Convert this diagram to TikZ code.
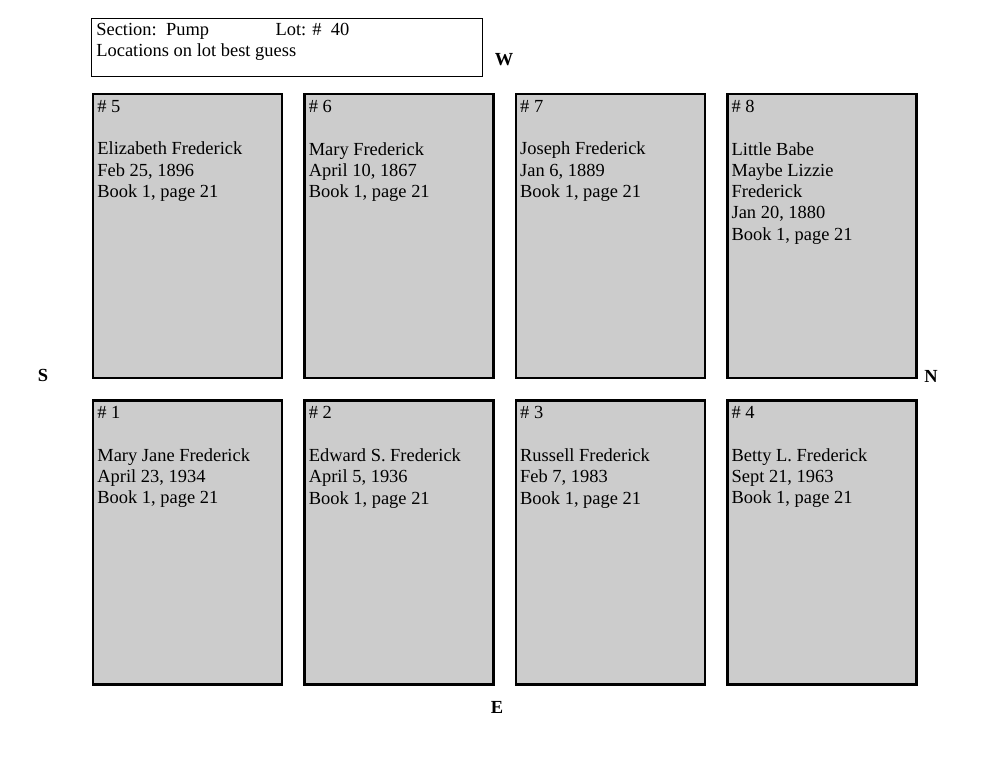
\documentclass[tikz,border=0pt]{standalone}
\usepackage{fontspec}
\setmainfont{Liberation Serif}
\usetikzlibrary{positioning}

\begin{document}
\begin{tikzpicture}[x=0.02cm, y=-0.02cm,
  plot/.style={draw, line width=1.4pt, fill=black!20, minimum width=3.78cm, minimum height=5.68cm, inner sep=0pt},
  entry/.style={anchor=north west, inner sep=0pt, align=left, font=\fontsize{10.5}{12.1}\selectfont},
  compass/.style={font=\bfseries\fontsize{10.5}{12}\selectfont}]

        \useasboundingbox (0,0) rectangle (1000,773);
        \node[draw, line width=0.8pt, anchor=north west, minimum width=7.82cm, minimum height=1.16cm, inner sep=0pt] (head) at (91,18) {};
        \node[entry] at (96,23) {Section:\ \ Pump\hspace{3.6em}Lot: \#\ \ 40\\Locations on lot best guess};

        \node[plot, anchor=north west] (P5) at (92,93) {};
        \node[plot, right=0.4cm of P5] (P6) {};
        \node[plot, right=0.4cm of P6] (P7) {};
        \node[plot, right=0.4cm of P7] (P8) {};
        \node[plot, below=0.4cm of P5] (P1) {};
        \node[plot, right=0.4cm of P1] (P2) {};
        \node[plot, right=0.4cm of P2] (P3) {};
        \node[plot, right=0.4cm of P3] (P4) {};

        \node[entry] at ([shift={(0.1cm,-0.14cm)}]P5.north west) {\# 5\\[12.1pt]Elizabeth Frederick\\Feb 25, 1896\\Book 1, page 21};
        \node[entry] at ([shift={(0.1cm,-0.14cm)}]P6.north west) {\# 6\\[12.1pt]Mary Frederick\\April 10, 1867\\Book 1, page 21};
        \node[entry] at ([shift={(0.1cm,-0.14cm)}]P7.north west) {\# 7\\[12.1pt]Joseph Frederick\\Jan 6, 1889\\Book 1, page 21};
        \node[entry] at ([shift={(0.1cm,-0.14cm)}]P8.north west) {\# 8\\[12.1pt]Little Babe\\Maybe Lizzie\\Frederick\\Jan 20, 1880\\Book 1, page 21};
        \node[entry] at ([shift={(0.1cm,-0.14cm)}]P1.north west) {\# 1\\[12.1pt]Mary Jane Frederick\\April 23, 1934\\Book 1, page 21};
        \node[entry] at ([shift={(0.1cm,-0.14cm)}]P2.north west) {\# 2\\[12.1pt]Edward S. Frederick\\April 5, 1936\\Book 1, page 21};
        \node[entry] at ([shift={(0.1cm,-0.14cm)}]P3.north west) {\# 3\\[12.1pt]Russell Frederick\\Feb 7, 1983\\Book 1, page 21};
        \node[entry] at ([shift={(0.1cm,-0.14cm)}]P4.north west) {\# 4\\[12.1pt]Betty L. Frederick\\Sept 21, 1963\\Book 1, page 21};

        \node[compass] (W) at (504,60) {W};
        \node[compass] (E) at (497,707) {E};
        \node[compass] (S) at (43,375) {S};
        \node[compass] (N) at (931,376) {N};

    \end{tikzpicture}
\end{document}
